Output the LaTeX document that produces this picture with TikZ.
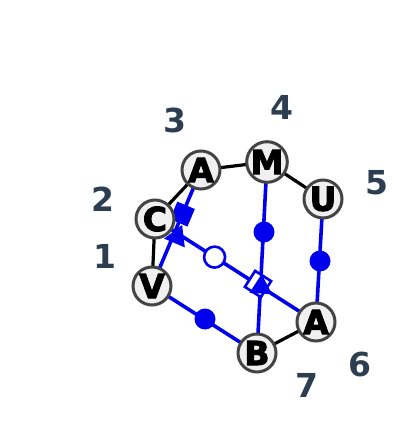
\documentclass[tikz,border=0pt]{standalone}
\usepackage{fontspec}
\setmainfont{DejaVu Sans}
\newfontfamily\nodefont{DejaVu Sans Bold}[FakeBold=3]
\usetikzlibrary{shapes.geometric,calc}
\definecolor{lbl}{HTML}{2C3E50}
\definecolor{nfill}{HTML}{F0F0F0}
\definecolor{nborder}{HTML}{444444}
\definecolor{bl}{HTML}{0000EE}
\begin{document}
\begin{tikzpicture}[x=1pt,y=-1pt,
  vtx/.style={circle,draw=nborder,line width=3pt,fill=nfill,minimum size=38pt,inner sep=0pt,font=\fontsize{33}{33}\nodefont},
  num/.style={text=lbl,font=\fontsize{33}{33}\selectfont\bfseries,inner sep=0pt},
  bedge/.style={line width=3.2pt,black},
  bluee/.style={line width=3.6pt,bl},
  dot/.style={circle,fill=bl,minimum size=21pt,inner sep=0pt},
  odot/.style={circle,draw=bl,line width=2.6pt,fill=white,minimum size=21pt,inner sep=0pt},
  fsq/.style={rectangle,fill=bl,minimum size=19pt,inner sep=0pt},
  osq/.style={rectangle,draw=bl,line width=2.6pt,fill=white,minimum size=19pt,inner sep=0pt},
  tri/.style={regular polygon,regular polygon sides=3,fill=bl,minimum size=26pt,inner sep=0pt}]
\useasboundingbox (0,0) rectangle (400,439);
% coordinates of nodes
\coordinate (pA1) at (201,170);
\coordinate (pM) at (267,162);
\coordinate (pU) at (323,199);
\coordinate (pC) at (155,219);
\coordinate (pV) at (152,286);
\coordinate (pB) at (257,353);
\coordinate (pA2) at (316,322);
% black edges
\draw[bedge] (pA1) -- (pM);
\draw[bedge] (pM) -- (pU);
\draw[bedge] (pA1) -- (pC);
\draw[bedge] (pC) -- (pV);
\draw[bedge] (pB) -- (pA2);
% blue edges
\draw[bluee] (pA1) -- (pV);
\draw[bluee] (pC) -- (pA2);
\draw[bluee] (pM) -- (pB);
\draw[bluee] (pU) -- (pA2);
\draw[bluee] (pV) -- (pB);
% markers
\node[fsq,rotate=-23] (m1) at ($(pA1)!0.38!(pV)$) {};
\node[tri,rotate=-23] (m2) at (177,237) {};
\node[odot] (m3) at ($(pC)!0.37!(pA2)$) {};
\node[osq,rotate=-32.6] (m4) at (258,284) {};
\node[tri,rotate=-3] (m5) at (261,287) {};
\node[dot] (m6) at (264,232) {};
\node[dot] (m7) at (320,261) {};
\node[dot] (m8) at (205,319) {};
% vertices
\node[vtx] (A1) at (pA1) {A};
\node[vtx] (M) at (pM) {M};
\node[vtx] (U) at (pU) {U};
\node[vtx] (C) at (pC) {C};
\node[vtx] (V) at (pV) {V};
\node[vtx] (B) at (pB) {B};
\node[vtx] (A2) at (pA2) {A};
% numbers
\node[num] (n1) at (105,256) {1};
\node[num] (n2) at (103,199) {2};
\node[num] (n3) at (175,120) {3};
\node[num] (n4) at (282,107) {4};
\node[num] (n5) at (377,183) {5};
\node[num] (n6) at (360,364) {6};
\node[num] (n7) at (307,385) {7};
\end{tikzpicture}
\end{document}
